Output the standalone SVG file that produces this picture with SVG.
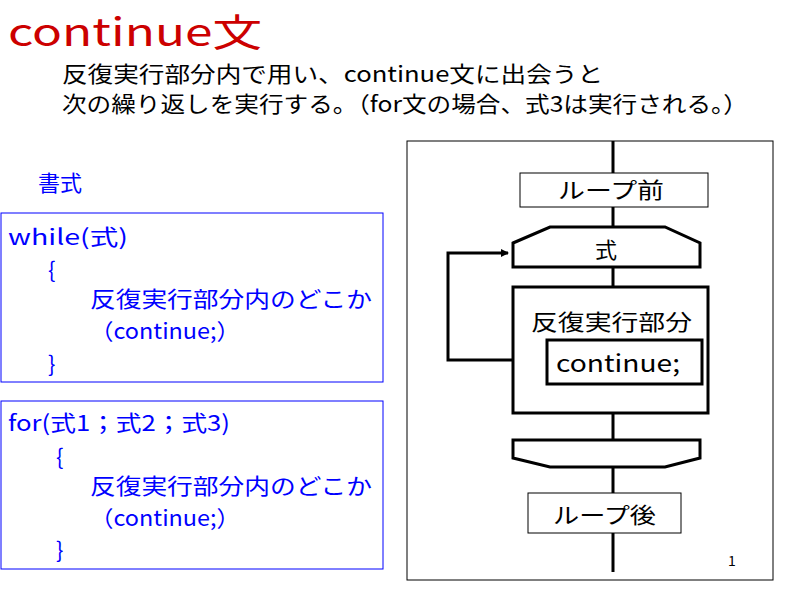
<svg xmlns="http://www.w3.org/2000/svg" width="800" height="600" viewBox="0 0 800 600">
<style>
text{font-family:"Noto Sans CJK JP","Liberation Sans",sans-serif}
.b{fill:#00f;font-size:22px}
.k{fill:#000;font-size:22px}
.thin{fill:#fff;stroke:#000;stroke-width:1}
.thick{fill:#fff;stroke:#000;stroke-width:3}
</style>
<defs><marker id="ar" markerWidth="8" markerHeight="8" refX="7" refY="4" orient="auto" markerUnits="userSpaceOnUse" viewBox="0 0 8 8"><path d="M0,0L8,4L0,8z"/></marker></defs>
<rect width="800" height="600" fill="#fff"/>
<text x="8" y="46" fill="#c00" font-size="38" textLength="254" lengthAdjust="spacingAndGlyphs">continue文</text>
<text x="62" y="82" class="k" textLength="541" lengthAdjust="spacingAndGlyphs">反復実行部分内で用い、continue文に出会うと</text>
<text x="62" y="112" class="k" textLength="686" lengthAdjust="spacingAndGlyphs">次の繰り返しを実行する。（for文の場合、式3は実行される。）</text>
<text x="38" y="191" class="b">書式</text>
<g id="while"><rect x="1" y="213" width="382" height="169" fill="none" stroke="#00f"/>
<text x="8" y="245" class="b" textLength="120" lengthAdjust="spacingAndGlyphs">while(式)</text>
<text x="48" y="278" class="b">{</text>
<text x="90" y="307" class="b" textLength="282" lengthAdjust="spacingAndGlyphs">反復実行部分内のどこか</text>
<text x="90" y="339" class="b" textLength="150" lengthAdjust="spacingAndGlyphs">（continue;）</text>
<text x="48" y="372" class="b">}</text></g>
<g id="for"><rect x="1" y="401" width="382" height="168" fill="none" stroke="#00f"/>
<text x="8" y="431" class="b" textLength="222" lengthAdjust="spacingAndGlyphs">for(式1；式2；式3)</text>
<text x="56" y="465" class="b">{</text>
<text x="90" y="494" class="b" textLength="282" lengthAdjust="spacingAndGlyphs">反復実行部分内のどこか</text>
<text x="90" y="526" class="b" textLength="150" lengthAdjust="spacingAndGlyphs">（continue;）</text>
<text x="56" y="558" class="b">}</text></g>
<rect x="407" y="141" width="366" height="439" fill="none" stroke="#000"/>
<g id="connectors" fill="none" stroke="#000" stroke-width="3">
<line x1="613" y1="141" x2="613" y2="572"/>
<polyline points="547,360 448,360 448,253 508,253" marker-end="url(#ar)"/>
</g>
<g id="before"><rect x="520" y="173" width="188" height="34" class="thin"/><text x="558" y="198" class="k" textLength="106" lengthAdjust="spacingAndGlyphs">ループ前</text></g>
<g id="cond"><path d="M513,243L550,227H665L700,243V267H513Z" class="thick"/><text x="606" y="258" class="k" text-anchor="middle">式</text></g>
<g id="body"><rect x="513" y="287" width="195" height="126" class="thick"/><text x="531" y="330" class="k" textLength="161" lengthAdjust="spacingAndGlyphs">反復実行部分</text></g>
<g id="cont"><rect x="547" y="340" width="155" height="44" class="thick"/><text x="556" y="372" fill="#000" font-size="24" textLength="124" lengthAdjust="spacingAndGlyphs">continue;</text></g>
<g id="end"><path d="M513,440H700V458L665,467H550L513,458Z" class="thick"/></g>
<g id="after"><rect x="528" y="493" width="153" height="40" class="thin"/><text x="553" y="523" class="k" textLength="103" lengthAdjust="spacingAndGlyphs">ループ後</text></g>
<text x="728" y="566" font-family="Liberation Serif" font-size="14">1</text>
</svg>
